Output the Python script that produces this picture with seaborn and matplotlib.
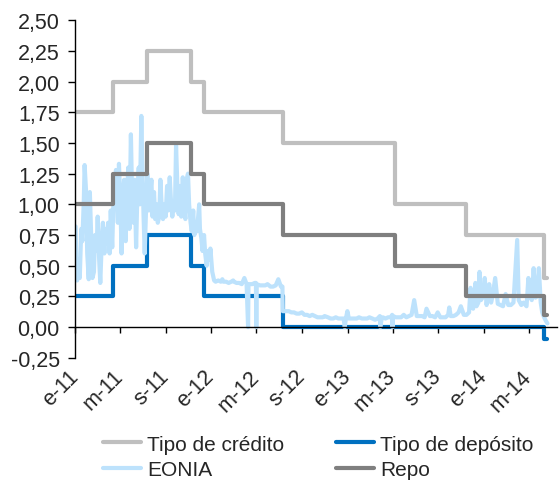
import numpy as np
import pandas as pd
import matplotlib
matplotlib.use("Agg")
import matplotlib.pyplot as plt
import matplotlib.dates as mdates
from matplotlib.ticker import FuncFormatter
import seaborn as sns

# ECB official rates (step changes) and end of the sample
rate_dates = ["2011-01-03", "2011-04-13", "2011-07-13", "2011-11-09", "2011-12-14",
              "2012-07-11", "2013-05-08", "2013-11-13", "2014-06-11", "2014-06-20"]
tipo_credito = [1.75, 2.00, 2.25, 2.00, 1.75, 1.50, 1.00, 0.75, 0.40, 0.40]
tipo_deposito = [0.25, 0.50, 0.75, 0.50, 0.25, 0.00, 0.00, 0.00, -0.10, -0.10]
repo = [1.00, 1.25, 1.50, 1.25, 1.00, 0.75, 0.50, 0.25, 0.10, 0.10]

# EONIA overnight rate
eonia_dates = [
    "2011-01-03", "2011-01-05", "2011-01-07", "2011-01-11", "2011-01-14", "2011-01-18",
    "2011-01-21", "2011-01-25", "2011-01-27", "2011-01-31", "2011-02-03", "2011-02-07",
    "2011-02-10", "2011-02-14", "2011-02-17", "2011-02-21", "2011-02-24", "2011-02-28",
    "2011-03-03", "2011-03-07", "2011-03-10", "2011-03-14", "2011-03-17", "2011-03-21",
    "2011-03-24", "2011-03-28", "2011-03-31", "2011-04-04", "2011-04-07", "2011-04-11",
    "2011-04-14", "2011-04-18", "2011-04-21", "2011-04-26", "2011-04-29", "2011-05-03",
    "2011-05-06", "2011-05-10", "2011-05-13", "2011-05-17", "2011-05-20", "2011-05-24",
    "2011-05-27", "2011-05-31", "2011-06-03", "2011-06-07", "2011-06-10", "2011-06-14",
    "2011-06-17", "2011-06-21", "2011-06-24", "2011-06-28", "2011-06-30", "2011-07-04",
    "2011-07-07", "2011-07-11", "2011-07-14", "2011-07-18", "2011-07-21", "2011-07-25",
    "2011-07-28", "2011-08-01", "2011-08-04", "2011-08-08", "2011-08-11", "2011-08-15",
    "2011-08-18", "2011-08-22", "2011-08-25", "2011-08-29", "2011-09-01", "2011-09-05",
    "2011-09-08", "2011-09-12", "2011-09-15", "2011-09-19", "2011-09-22", "2011-09-26",
    "2011-09-29", "2011-10-03", "2011-10-06", "2011-10-10", "2011-10-13", "2011-10-17",
    "2011-10-20", "2011-10-24", "2011-10-27", "2011-10-31", "2011-11-03", "2011-11-07",
    "2011-11-10", "2011-11-14", "2011-11-17", "2011-11-21", "2011-11-24", "2011-11-28",
    "2011-11-30", "2011-12-02", "2011-12-06", "2011-12-09", "2011-12-13", "2011-12-16",
    "2011-12-20", "2011-12-23", "2011-12-28", "2011-12-30", "2012-01-04", "2012-01-09",
    "2012-01-13", "2012-01-20", "2012-01-27", "2012-01-31", "2012-02-03", "2012-02-10",
    "2012-02-17", "2012-02-24", "2012-02-29", "2012-03-02", "2012-03-09", "2012-03-16",
    "2012-03-23", "2012-03-30", "2012-04-05", "2012-04-09", "2012-04-10", "2012-04-13",
    "2012-04-20", "2012-04-27", "2012-04-30", "2012-05-01", "2012-05-02", "2012-05-11",
    "2012-05-18", "2012-05-25", "2012-05-31", "2012-06-08", "2012-06-15", "2012-06-22",
    "2012-06-29", "2012-07-06", "2012-07-10", "2012-07-11", "2012-07-20", "2012-07-27",
    "2012-08-03", "2012-08-10", "2012-08-17", "2012-08-24", "2012-08-31", "2012-09-07",
    "2012-09-14", "2012-09-21", "2012-09-28", "2012-10-05", "2012-10-12", "2012-10-19",
    "2012-10-26", "2012-10-31", "2012-11-09", "2012-11-16", "2012-11-23", "2012-11-30",
    "2012-12-07", "2012-12-14", "2012-12-21", "2012-12-24", "2012-12-27", "2012-12-31",
    "2013-01-04", "2013-01-11", "2013-01-18", "2013-01-25", "2013-01-31", "2013-02-08",
    "2013-02-15", "2013-02-22", "2013-02-28", "2013-03-08", "2013-03-15", "2013-03-22",
    "2013-03-28", "2013-03-29", "2013-04-02", "2013-04-05", "2013-04-12", "2013-04-19",
    "2013-04-26", "2013-04-30", "2013-05-01", "2013-05-02", "2013-05-10", "2013-05-17",
    "2013-05-24", "2013-05-31", "2013-06-07", "2013-06-14", "2013-06-21", "2013-06-28",
    "2013-07-05", "2013-07-12", "2013-07-19", "2013-07-26", "2013-07-31", "2013-08-09",
    "2013-08-16", "2013-08-23", "2013-08-30", "2013-09-06", "2013-09-13", "2013-09-20",
    "2013-09-27", "2013-09-30", "2013-10-04", "2013-10-11", "2013-10-18", "2013-10-25",
    "2013-10-31", "2013-11-08", "2013-11-15", "2013-11-22", "2013-11-26", "2013-11-29",
    "2013-12-03", "2013-12-09", "2013-12-12", "2013-12-17", "2013-12-20", "2013-12-24",
    "2013-12-30", "2014-01-03", "2014-01-08", "2014-01-15", "2014-01-20", "2014-01-24",
    "2014-01-31", "2014-02-07", "2014-02-14", "2014-02-21", "2014-02-28", "2014-03-07",
    "2014-03-14", "2014-03-21", "2014-03-31", "2014-04-04", "2014-04-11", "2014-04-17",
    "2014-04-25", "2014-04-30", "2014-05-05", "2014-05-09", "2014-05-14", "2014-05-19",
    "2014-05-23", "2014-05-28", "2014-06-02", "2014-06-06", "2014-06-11", "2014-06-16",
    "2014-06-20",
]
eonia = [
    0.82, 0.45, 0.38, 0.55, 0.40, 0.80,
    0.70, 1.05, 1.32, 1.10, 0.60, 0.39,
    1.10, 0.70, 0.40, 0.45, 0.75, 0.62,
    0.90, 0.55, 0.36, 0.70, 0.85, 0.60,
    0.80, 0.68, 0.85, 0.60, 0.95, 0.65,
    1.00, 1.10, 1.28, 0.85, 1.33, 1.00,
    0.60, 1.10, 1.20, 0.70, 1.05, 1.30,
    0.80, 1.57, 1.10, 0.85, 1.20, 0.65,
    1.05, 1.30, 1.00, 1.72, 1.40, 0.90,
    0.60, 1.00, 1.25, 0.95, 1.05, 1.20,
    0.90, 1.10, 0.88, 1.00, 0.85, 0.90,
    1.20, 0.95, 0.88, 1.00, 0.90, 1.15,
    0.95, 1.22, 1.05, 0.90, 1.00, 0.95,
    1.48, 1.10, 0.92, 1.15, 0.90, 1.22,
    1.00, 0.88, 1.20, 1.25, 1.00, 0.85,
    0.78, 0.95, 0.75, 0.82, 0.78, 0.92,
    1.00, 0.80, 0.72, 0.62, 0.75, 0.60,
    0.50, 0.62, 0.55, 0.64, 0.45, 0.38,
    0.37, 0.38, 0.37, 0.39, 0.37, 0.37,
    0.36, 0.37, 0.38, 0.37, 0.36, 0.36,
    0.35, 0.40, 0.35, 0.00, 0.35, 0.35,
    0.35, 0.36, 0.36, 0.00, 0.35, 0.34,
    0.34, 0.34, 0.35, 0.33, 0.33, 0.34,
    0.39, 0.33, 0.33, 0.13, 0.13, 0.13,
    0.12, 0.12, 0.11, 0.11, 0.12, 0.10,
    0.10, 0.09, 0.10, 0.09, 0.08, 0.08,
    0.08, 0.09, 0.08, 0.07, 0.07, 0.08,
    0.07, 0.07, 0.07, 0.00, 0.07, 0.13,
    0.07, 0.07, 0.07, 0.07, 0.08, 0.07,
    0.07, 0.07, 0.08, 0.07, 0.06, 0.07,
    0.09, 0.00, 0.07, 0.08, 0.07, 0.08,
    0.08, 0.10, 0.00, 0.09, 0.08, 0.08,
    0.08, 0.10, 0.08, 0.09, 0.10, 0.22,
    0.09, 0.09, 0.09, 0.08, 0.15, 0.09,
    0.09, 0.08, 0.12, 0.08, 0.08, 0.08,
    0.10, 0.16, 0.09, 0.09, 0.10, 0.12,
    0.17, 0.10, 0.10, 0.12, 0.32, 0.17,
    0.15, 0.36, 0.17, 0.20, 0.45, 0.22,
    0.25, 0.40, 0.18, 0.35, 0.20, 0.25,
    0.40, 0.19, 0.18, 0.17, 0.27, 0.18,
    0.18, 0.20, 0.71, 0.22, 0.18, 0.20,
    0.17, 0.40, 0.25, 0.22, 0.48, 0.24,
    0.25, 0.48, 0.20, 0.12, 0.08, 0.05,
    0.03,
]

x_tick_dates = ["2011-01-01", "2011-05-01", "2011-09-01", "2012-01-01", "2012-05-01",
                "2012-09-01", "2013-01-01", "2013-05-01", "2013-09-01", "2014-01-01",
                "2014-05-01"]
x_tick_labels = ["e-11", "m-11", "s-11", "e-12", "m-12", "s-12", "e-13", "m-13",
                 "s-13", "e-14", "m-14"]

sns.set_style("white")
plt.rcParams["font.family"] = ["Liberation Sans", "DejaVu Sans"]

rates = pd.DataFrame({
    "fecha": pd.to_datetime(rate_dates),
    "credito": tipo_credito,
    "deposito": tipo_deposito,
    "repo": repo,
})
eonia_df = pd.DataFrame({"fecha": pd.to_datetime(eonia_dates), "eonia": eonia})

fig, ax = plt.subplots(figsize=(5.59, 4.81), dpi=100)
fig.subplots_adjust(left=0.134, right=0.996, top=0.956, bottom=0.254)

lw = 3.0
sns.lineplot(data=rates, x="fecha", y="credito", ax=ax, color="#BFBFBF", lw=lw,
             drawstyle="steps-post", label="Tipo de crédito")
sns.lineplot(data=rates, x="fecha", y="deposito", ax=ax, color="#0070C0", lw=lw,
             drawstyle="steps-post", label="Tipo de depósito")
sns.lineplot(data=eonia_df, x="fecha", y="eonia", ax=ax, color="#BDE2FC", lw=3.0,
             label="EONIA")
sns.lineplot(data=rates, x="fecha", y="repo", ax=ax, color="#7F7F7F", lw=lw,
             drawstyle="steps-post", label="Repo")

ax.set_ylim(-0.25, 2.5)
ax.set_xlim(pd.Timestamp("2011-01-01"), pd.Timestamp("2014-07-15"))
ax.set_yticks(np.arange(-0.25, 2.51, 0.25))
ax.yaxis.set_major_formatter(FuncFormatter(lambda v, p: f"{v:.2f}".replace(".", ",")))

for side in ["top", "right"]:
    ax.spines[side].set_visible(False)
ax.spines["bottom"].set_position(("data", 0))
for side in ["left", "bottom"]:
    ax.spines[side].set_color("black")
    ax.spines[side].set_linewidth(1.0)

ax.tick_params(axis="y", direction="out", length=5, width=1, color="black",
               labelsize=15.5, pad=6, left=True)
ax.tick_params(axis="x", direction="out", length=4, width=1, color="black",
               labelsize=15.5, pad=29, bottom=True)
ax.set_xlabel("")
ax.set_ylabel("")

ax.set_xticks(mdates.date2num(pd.to_datetime(x_tick_dates)))
ax.set_xticklabels(x_tick_labels)
for lab in ax.get_xticklabels():
    lab.set_rotation(45)
    lab.set_ha("right")
    lab.set_va("center")
    lab.set_rotation_mode("anchor")

handles, labels = ax.get_legend_handles_labels()
order = [0, 2, 1, 3]
leg = ax.legend([handles[i] for i in order], [labels[i] for i in order],
                loc="upper left", bbox_to_anchor=(0.042, -0.203), ncol=2,
                frameon=False, fontsize=15, handlelength=1.8, handletextpad=0.3,
                columnspacing=2.5, labelspacing=0.3, borderaxespad=0)

fig.savefig("out.png", dpi=100)
